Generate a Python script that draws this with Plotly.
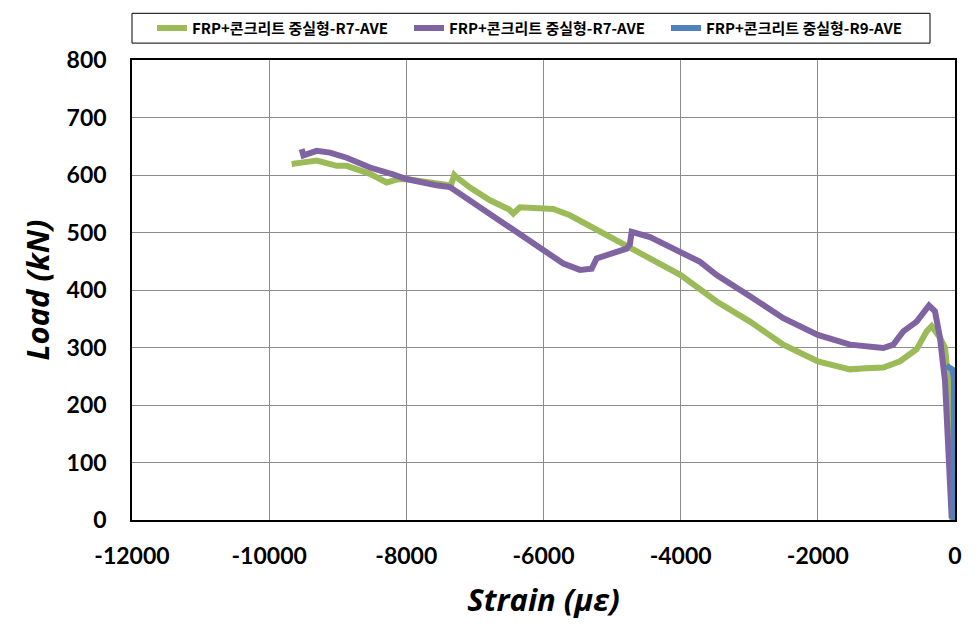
import plotly.graph_objects as go

# ---- data ----
green_strain = [-40, -48, -73, -97, -146, -219, -340, -413, -559, -802, -1045, -1300, -1531,
                -2000, -2503, -2989, -3475, -4000, -4447, -4739, -4933, -5274, -5614, -5858,
                -6150, -6343, -6440, -6500, -6780, -7072, -7266, -7300, -7350, -7560, -7800,
                -8000, -8140, -8287, -8530, -8870, -9016, -9307, -9505, -9672]
green_load = [0, 58, 127, 242, 300, 317, 337, 328, 297, 276, 265, 264, 262,
              276, 305, 345, 380, 426, 455, 475, 487, 509, 530, 541,
              544, 544, 533, 540, 556, 578, 596, 600, 582, 585, 590,
              593, 592, 587, 602, 616, 616, 625, 622, 619]

purple_strain = [-48, -97, -146, -219, -292, -379, -559, -754, -900, -1045, -1531, -2000,
                 -2503, -2989, -3475, -3718, -4058, -4447, -4714, -4740, -4787, -4933, -5225,
                 -5298, -5468, -5711, -5954, -6343, -6732, -7072, -7364, -7560, -8000, -8195,
                 -8530, -8870, -9113, -9307, -9500, -9526]
purple_load = [3, 127, 242, 317, 363, 373, 345, 328, 305, 299, 305, 322,
               351, 389, 426, 449, 469, 492, 501, 480, 472, 466, 455,
               437, 435, 446, 466, 495, 530, 558, 579, 582, 593, 601,
               613, 630, 639, 642, 634, 645]

blue_strain = [-20, -18, -15, -15, -40, -80, -125]
blue_load = [0, 100, 200, 245, 262, 266, 268]

series_names = ["FRP+콘크리트 중실형-R7-AVE", "FRP+콘크리트 중실형-R7-AVE", "FRP+콘크리트 중실형-R9-AVE"]
colors = ["#9BBB59", "#8064A2", "#4F81BD"]

x_ticks = [-12000, -10000, -8000, -6000, -4000, -2000, 0]
y_ticks = [0, 100, 200, 300, 400, 500, 600, 700, 800]

fig = go.Figure()
for xs, ys, name, c in [(green_strain, green_load, series_names[0], colors[0]),
                        (purple_strain, purple_load, series_names[1], colors[1]),
                        (blue_strain, blue_load, series_names[2], colors[2])]:
    fig.add_trace(go.Scatter(x=xs, y=ys, mode="lines", name=name,
                             line=dict(color=c, width=6)))

tickfont = dict(family="Lato, 'Open Sans', sans-serif", size=23, color="black", weight="bold")
titlefont = dict(family="'Open Sans', Lato, sans-serif", size=31, color="black",
                 weight="bold", style="italic")

# legend frame (paper coordinates derived from plot-area pixels)
L, R, T, B = 132, 955, 57, 520
def px_x(p):
    return (p - L) / (R - L)
def px_y(p):
    return (B - p) / (B - T)

fig.add_shape(type="rect", xref="paper", yref="paper",
              x0=px_x(132), x1=px_x(930), y0=px_y(40), y1=px_y(10),
              line=dict(color="black", width=1), fillcolor="white", layer="below")

fig.update_layout(
    width=977, height=638,
    margin=dict(l=L, r=977 - R, t=T, b=638 - B),
    plot_bgcolor="white", paper_bgcolor="white",
    showlegend=True,
    legend=dict(orientation="h", x=px_x(152), xanchor="left", y=px_y(25), yanchor="middle",
                borderwidth=0, bgcolor="rgba(0,0,0,0)",
                font=dict(family="'Noto Sans CJK KR', sans-serif", size=15,
                          color="black", weight="bold"),
                itemwidth=30, entrywidth=212, tracegroupgap=0),
    xaxis=dict(range=[-12000, 0], tickvals=x_ticks, ticktext=[str(v) for v in x_ticks],
               showgrid=True, gridcolor="#8C8C8C", gridwidth=1,
               showline=True, linecolor="black", linewidth=1.5, mirror=True,
               zeroline=False, ticks="", tickfont=tickfont, ticklabelstandoff=15,
               title=dict(text="Strain (με)", font=titlefont, standoff=21)),
    yaxis=dict(range=[0, 800], tickvals=y_ticks, showgrid=True, gridcolor="#8C8C8C",
               gridwidth=1, showline=True, linecolor="black", linewidth=1.5, mirror=True,
               zeroline=False, ticks="", tickfont=tickfont, ticklabelstandoff=19,
               title=dict(text="Load (kN)", font=titlefont, standoff=8)),
)

fig.write_html("out.html")
